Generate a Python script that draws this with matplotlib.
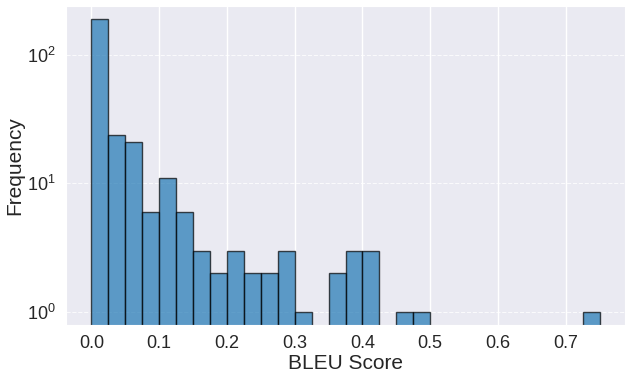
import numpy as np
import matplotlib
matplotlib.use("Agg")
import matplotlib.pyplot as plt
import seaborn as sns

sns.set_style("darkgrid")
plt.rcParams['font.family'] = ['Liberation Sans', 'DejaVu Sans']

bin_edges = [round(i * 0.025, 3) for i in range(31)]
counts = [190, 24, 21, 6, 11, 6, 3, 2, 3, 2, 2, 3, 1, 0, 2, 3, 3, 0, 1, 1,
          0, 0, 0, 0, 0, 0, 0, 0, 0, 1]

fig = plt.figure(figsize=(6.25, 3.73), dpi=100)
ax = fig.add_axes([0.1056, 0.1287, 0.8944, 0.855])
ax.hist(bin_edges[:-1], bins=bin_edges, weights=counts, color='#1f77b4',
        alpha=0.7, edgecolor='black', linewidth=1.0, log=True)
ax.set_yscale('log')
ax.grid(True, axis='x', color='white', linewidth=1.0)
ax.grid(True, axis='y', color='white', linestyle='--', linewidth=0.8, alpha=0.8)
ax.set_xlabel('BLEU Score', fontsize=15, labelpad=1)
ax.set_ylabel('Frequency', fontsize=15, labelpad=2)
ax.tick_params(axis='both', labelsize=13, pad=4)
ax.set_xlim(-0.0375, 0.7875)
ax.set_ylim(0.79, 240)
fig.savefig('out.png', dpi=100)
